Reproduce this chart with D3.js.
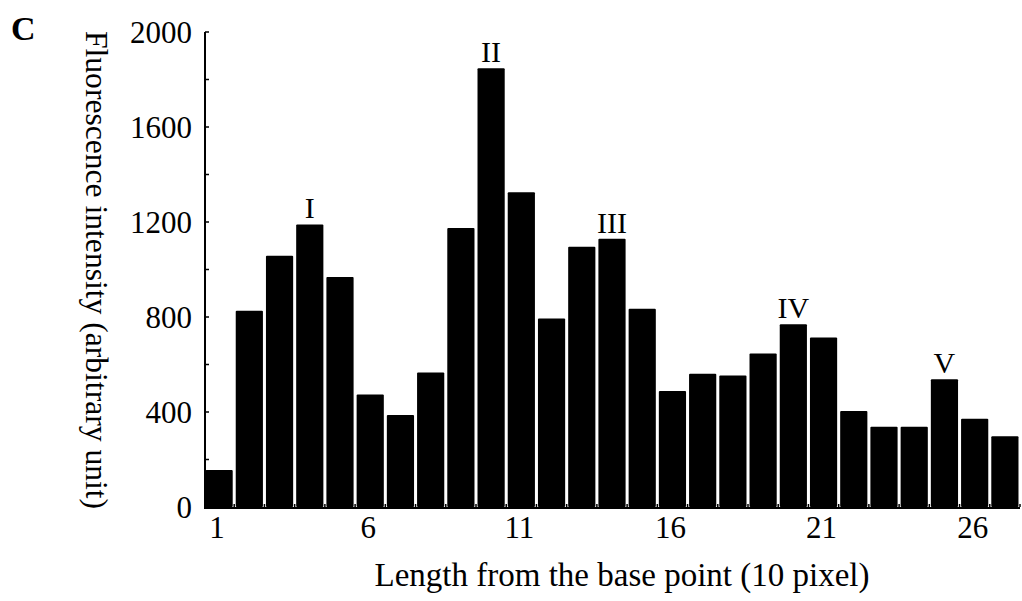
<!DOCTYPE html>
<html>
<head>
<meta charset="utf-8">
<script src="https://cdn.jsdelivr.net/npm/d3@7"></script>
<style>
  body { margin: 0; background: #fff; }
  text { font-family: "Liberation Serif", "Times New Roman", serif; fill: #000; }
</style>
</head>
<body>
<svg id="chart" width="1022" height="601"></svg>
<script>
// positions along the base line (10 pixel steps)
const positions = d3.range(1, 28);
// fluorescence intensity
const intensity = [156, 826, 1058, 1190, 968, 474, 387, 566, 1175, 1847, 1325, 794, 1096, 1130, 835,
                   488, 561, 554, 646, 769, 714, 404, 338, 338, 538, 372, 298];
const xTickLabels = [1, 6, 11, 16, 21, 26];
const yTicks = [0, 400, 800, 1200, 1600, 2000];
const yMinorTicks = d3.range(0, 2001, 200);
// peak markers: position and roman numeral
const peakPos = [4, 10, 14, 20, 25];
const peakLabel = ["I", "II", "III", "IV", "V"];

const svg = d3.select("#chart");

const x = d3.scaleBand()
  .domain(positions)
  .range([204, 1020])
  .paddingInner(0.1)
  .paddingOuter(0.05);

const y = d3.scaleLinear()
  .domain([0, 2000])
  .range([507, 32]);

// bars
svg.append("g")
  .selectAll("rect")
  .data(positions)
  .join("rect")
    .attr("x", d => x(d))
    .attr("y", (d, i) => y(intensity[i]))
    .attr("width", x.bandwidth())
    .attr("height", (d, i) => y(0) - y(intensity[i]))
    .attr("rx", 1)
    .attr("fill", "#000");

// y axis: line with inward ticks
const yAxis = svg.append("g").attr("transform", "translate(205,0)");
yAxis.append("line")
  .attr("y1", y(2000)).attr("y2", y(0))
  .attr("stroke", "#000").attr("stroke-width", 2);
yAxis.selectAll(".tick")
  .data(yMinorTicks)
  .join("line")
    .attr("x1", 0).attr("x2", 4)
    .attr("y1", d => y(d)).attr("y2", d => y(d))
    .attr("stroke", "#000").attr("stroke-width", 1.5);
yAxis.selectAll(".lbl")
  .data(yTicks)
  .join("text")
    .attr("x", -13)
    .attr("y", d => y(d))
    .attr("dy", "0.34em")
    .attr("text-anchor", "end")
    .attr("font-size", 31)
    .text(d => d);

// x axis: base line, small ticks between bars
const xAxis = svg.append("g");
xAxis.append("line")
  .attr("x1", 204).attr("x2", 1020)
  .attr("y1", y(0) + 1).attr("y2", y(0) + 1)
  .attr("stroke", "#000").attr("stroke-width", 2);
xAxis.selectAll(".tick")
  .data(positions)
  .join("line")
    .attr("x1", d => x(d) + x.bandwidth() + x.step() * 0.05)
    .attr("x2", d => x(d) + x.bandwidth() + x.step() * 0.05)
    .attr("y1", y(0)).attr("y2", y(0) - 3)
    .attr("stroke", "#000").attr("stroke-width", 1.5);
xAxis.selectAll(".lbl")
  .data(xTickLabels)
  .join("text")
    .attr("x", d => x(d) + x.bandwidth() / 2 - 2)
    .attr("y", 538)
    .attr("text-anchor", "middle")
    .attr("font-size", 31)
    .text(d => d);

// peak labels
svg.append("g")
  .selectAll("text")
  .data(peakPos)
  .join("text")
    .attr("x", d => x(d) + x.bandwidth() / 2)
    .attr("y", d => y(intensity[positions.indexOf(d)]) - 6)
    .attr("text-anchor", "middle")
    .attr("font-size", 30)
    .text((d, i) => peakLabel[i]);

// axis titles
svg.append("text")
  .attr("x", 622)
  .attr("y", 586)
  .attr("text-anchor", "middle")
  .attr("font-size", 33)
  .text("Length from the base point (10 pixel)");

svg.append("text")
  .attr("transform", "translate(86,270) rotate(90)")
  .attr("text-anchor", "middle")
  .attr("font-size", 31.6)
  .text("Fluorescence intensity (arbitrary unit)");

// panel letter
svg.append("text")
  .attr("x", 11)
  .attr("y", 40)
  .attr("font-size", 34)
  .attr("font-weight", "bold")
  .text("C");
</script>
</body>
</html>
